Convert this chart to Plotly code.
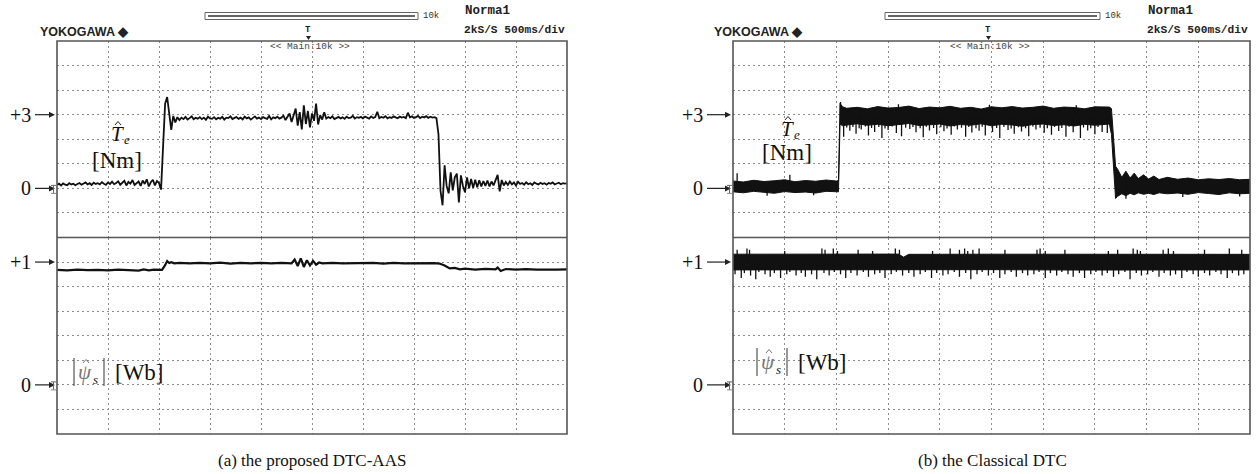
import numpy as np
import plotly.graph_objects as go

# ---------------- data ----------------
# (a) proposed DTC-AAS : torque estimate [Nm], sampled every 0.02 s from 0 to 5 s
TA_DT = 0.02
TA_V = [
    0.14, 0.19, 0.12, 0.20, 0.15, 0.13, 0.21, 0.16, 0.19, 0.13,
    0.18, 0.22, 0.15, 0.20, 0.24, 0.16, 0.21, 0.14, 0.23, 0.18,
    0.21, 0.16, 0.25, 0.19, 0.14, 0.24, 0.18, 0.27, 0.17, 0.22,
    0.29, 0.15, 0.23, 0.31, 0.12, 0.26, 0.19, 0.34, 0.14, 0.23,
    0.28, 0.10, 0.32, 0.18, 0.37, 0.08, 0.25, 0.35, 0.12, 0.30,
    0.22, -0.05, 1.60, 3.45, 3.72, 2.90, 2.38, 2.95, 2.68, 2.90,
    2.78, 2.88, 2.82, 2.91, 2.80, 2.86, 2.93, 2.81, 2.87, 2.84,
    2.90, 2.82, 2.88, 2.79, 2.92, 2.85, 2.83, 2.90, 2.81, 2.87,
    2.84, 2.91, 2.80, 2.88, 2.86, 2.93, 2.82, 2.87, 2.90, 2.83,
    2.88, 2.81, 2.92, 2.85, 2.89, 2.80, 2.87, 2.93, 2.84, 2.88,
    2.82, 2.90, 2.86, 2.83, 2.95, 2.81, 2.89, 2.86, 2.92, 2.84,
    2.88, 2.96, 2.78, 2.92, 3.05, 2.70, 2.98, 3.25, 2.55, 3.10,
    2.40, 3.38, 2.62, 3.15, 2.48, 3.05, 2.75, 3.45, 2.60, 2.98,
    2.80, 3.10, 2.84, 2.90, 2.86, 2.93, 2.82, 2.88, 2.91, 2.85,
    2.89, 2.83, 2.92, 2.86, 2.88, 2.95, 2.84, 2.90, 2.87, 2.91,
    2.85, 2.92, 2.88, 2.84, 2.93, 2.87, 2.90, 3.12, 2.86, 2.91,
    2.88, 2.94, 2.85, 2.90, 2.87, 2.93, 2.89, 2.86, 2.92, 2.88,
    2.91, 2.86, 3.08, 2.89, 2.93, 2.87, 2.90, 2.95, 2.86, 2.92,
    2.89, 2.94, 2.87, 2.92, 2.88, 2.90, 2.86, 2.20, -0.10, -0.69,
    0.94, 0.10, -0.20, 0.65, -0.08, 0.45, 0.60, -0.57, 0.53, 0.10,
    -0.16, 0.45, 0.00, 0.38, 0.02, 0.35, 0.05, 0.33, 0.08, 0.30,
    0.10, 0.32, 0.08, 0.28, 0.12, 0.30, 0.55, -0.12, 0.34, 0.12,
    0.26, 0.14, 0.28, 0.16, 0.24, 0.12, 0.27, 0.18, 0.22, 0.15,
    0.25, 0.17, 0.21, 0.14, 0.24, 0.19, 0.16, 0.23, 0.18, 0.21,
    0.15, 0.22, 0.19, 0.24, 0.16, 0.20, 0.23, 0.17, 0.21, 0.19,
    0.20,
]

# (a) stator flux magnitude [Wb]
FA_T = [0.0, 0.1, 0.2, 0.3, 0.4, 0.5, 0.6, 0.7, 0.8, 0.85, 0.9, 0.95, 1.0,
        1.03, 1.06, 1.08, 1.10, 1.12, 1.15,
        1.2, 1.3, 1.4, 1.5, 1.6, 1.7, 1.8, 1.9, 2.0, 2.1, 2.2, 2.3,
        2.33, 2.36, 2.39, 2.42, 2.45, 2.48, 2.51, 2.54, 2.57,
        2.6, 2.7, 2.8, 2.9, 3.0, 3.1, 3.2, 3.3, 3.4, 3.5, 3.6, 3.7,
        3.75, 3.8, 3.85, 3.9, 3.95, 4.0, 4.1, 4.2, 4.3, 4.32, 4.35,
        4.4, 4.5, 4.6, 4.7, 4.8, 4.9, 5.0]
FA_V = [0.936, 0.933, 0.938, 0.934, 0.937, 0.932, 0.938, 0.935, 0.931, 0.940, 0.933, 0.938, 0.934,
        0.936, 0.975, 1.008, 0.992, 0.999, 0.990,
        0.994, 0.989, 0.993, 0.990, 0.995, 0.988, 0.993, 0.990, 0.994, 0.989, 0.993, 0.990,
        1.020, 0.968, 1.030, 0.960, 1.015, 0.972, 1.010, 0.978, 0.996,
        0.990, 0.993, 0.989, 0.992, 0.990, 0.994, 0.988, 0.993, 0.990, 0.992, 0.989, 0.991,
        0.988, 0.972, 0.948, 0.952, 0.941, 0.946, 0.939, 0.944, 0.940, 0.955, 0.928,
        0.943, 0.939, 0.942, 0.938, 0.941, 0.939, 0.940]

# (b) classical DTC : torque ripple band (lower / upper envelope) [Nm]
TB_T = [0.00, 0.10, 0.20, 0.30, 0.40, 0.50, 0.60, 0.70, 0.80, 0.90, 1.00, 1.02,
        1.035, 1.06, 1.10, 1.20, 1.30, 1.40, 1.50, 1.60, 1.70, 1.80, 1.90, 2.00, 2.10,
        2.20, 2.30, 2.40, 2.50, 2.60, 2.70, 2.80, 2.90, 3.00, 3.10, 3.20, 3.30, 3.40,
        3.50, 3.60, 3.64,
        3.66, 3.70, 3.72, 3.76, 3.80, 3.84, 3.88, 3.92, 3.97, 4.02, 4.07, 4.12,
        4.20, 4.30, 4.40, 4.50, 4.60, 4.70, 4.80, 4.90, 5.00]
TB_LO = [-0.14, -0.18, -0.12, -0.16, -0.20, -0.13, -0.17, -0.15, -0.19, -0.12, -0.16, -0.14,
         2.62, 2.55, 2.58, 2.63, 2.57, 2.61, 2.55, 2.60, 2.64, 2.56, 2.59, 2.62, 2.54,
         2.60, 2.57, 2.63, 2.55, 2.61, 2.58, 2.53, 2.60, 2.62, 2.56, 2.59, 2.54, 2.61,
         2.57, 2.60, 2.62,
         2.20, -0.41, -0.32, -0.22, -0.30, -0.20, -0.26, -0.18, -0.24, -0.20, -0.25, -0.18,
         -0.22, -0.19, -0.24, -0.17, -0.21, -0.25, -0.18, -0.22, -0.20]
TB_HI = [0.30, 0.26, 0.33, 0.28, 0.31, 0.35, 0.27, 0.32, 0.29, 0.34, 0.30, 0.32,
         3.46, 3.32, 3.26, 3.30, 3.24, 3.33, 3.27, 3.29, 3.35, 3.25, 3.31, 3.28, 3.34,
         3.26, 3.30, 3.23, 3.32, 3.28, 3.33, 3.27, 3.30, 3.35, 3.26, 3.31, 3.29, 3.24,
         3.32, 3.30, 3.31,
         3.25, 0.90, 0.78, 0.45, 0.70, 0.42, 0.62, 0.40, 0.55, 0.38, 0.50, 0.36,
         0.45, 0.37, 0.42, 0.35, 0.39, 0.36, 0.40, 0.35, 0.37]
# (b) torque spikes (time [s], tip value [Nm])
SB_T = [0.04, 0.33, 0.55, 0.78, 1.04, 1.07, 1.10, 1.13, 1.16, 1.19, 1.22, 1.24, 1.28, 1.31,
        1.34, 1.37, 1.41, 1.44, 1.47, 1.50, 1.54, 1.58, 1.60, 1.63, 1.67, 1.71, 1.74, 1.77,
        1.81, 1.84, 1.87, 1.90, 1.94, 1.97, 2.01, 2.04, 2.07, 2.11, 2.14, 2.17, 2.21,
        2.25, 2.28, 2.31, 2.35, 2.38, 2.41, 2.44, 2.48, 2.51, 2.55, 2.58, 2.62, 2.66,
        2.69, 2.72, 2.76, 2.79, 2.83, 2.86, 2.90, 2.93, 2.97, 3.01, 3.04, 3.08, 3.11,
        3.15, 3.18, 3.22, 3.25, 3.29, 3.32, 3.36, 3.39, 3.43, 3.46, 3.50, 3.53, 3.57, 3.62,
        3.80, 4.35, 4.90]
SB_V = [0.62, -0.30, 0.55, -0.28, 3.52, 2.10, 2.48, 2.35, 2.50, 2.22, 2.45, 2.40, 2.52, 2.15,
        2.46, 2.30, 2.50, 2.05, 2.44, 2.38, 2.52, 2.25, 3.42, 2.12, 2.47, 2.42, 2.50, 2.28,
        2.45, 2.08, 2.51, 2.36, 2.46, 2.20, 2.49, 2.33, 2.44, 2.18, 2.52, 2.40, 2.47,
        2.10, 2.50, 2.27, 2.45, 2.35, 2.51, 2.15, 3.40, 2.30, 2.46, 2.05, 2.50, 2.38,
        2.44, 2.22, 2.49, 2.32, 2.45, 2.12, 2.52, 2.40, 2.47, 2.26, 2.45, 2.18, 2.50,
        2.34, 2.46, 2.10, 2.51, 2.28, 3.38, 2.05, 2.48, 2.36, 2.45, 2.20, 2.50, 2.30, 2.25,
        -0.42, -0.35, -0.33]

# (b) flux ripple band [Wb]
FB_T = [0.0, 0.8, 1.6, 1.65, 1.70, 2.5, 3.3, 4.1, 5.0]
FB_LO = [0.936, 0.938, 0.935, 0.937, 0.936, 0.938, 0.935, 0.937, 0.936]
FB_HI = [1.064, 1.062, 1.065, 1.040, 1.063, 1.064, 1.062, 1.065, 1.063]
# (b) flux spikes above the band
FBU_T = [0.04, 0.135, 0.16, 0.50, 0.86, 0.89, 0.97, 1.01, 1.21, 1.35, 1.57, 1.61, 1.93,
         2.10, 2.19, 2.24, 2.27, 2.32, 2.38, 2.63, 2.94, 2.97, 3.02, 3.21, 3.63, 3.72,
         3.87, 3.91, 3.94, 4.16, 4.21, 4.26, 4.56, 4.80, 4.92]
FBU_V = [1.10, 1.11, 1.10, 1.09, 1.11, 1.10, 1.11, 1.09, 1.10, 1.09, 1.11, 1.10, 1.09,
         1.11, 1.10, 1.11, 1.09, 1.10, 1.11, 1.10, 1.10, 1.11, 1.09, 1.10, 1.09, 1.10,
         1.11, 1.10, 1.09, 1.10, 1.11, 1.09, 1.10, 1.11, 1.10]
# (b) flux spikes below the band
FBD_T = [0.02, 0.08, 0.11, 0.17, 0.22, 0.25, 0.31, 0.36, 0.40, 0.46, 0.52, 0.55, 0.61,
         0.66, 0.70, 0.76, 0.81, 0.88, 0.93, 0.98, 1.04, 1.09, 1.14, 1.20, 1.26, 1.31,
         1.37, 1.42, 1.47, 1.53, 1.58, 1.64, 1.70, 1.75, 1.81, 1.86, 1.92, 1.97, 2.03,
         2.08, 2.14, 2.19, 2.25, 2.30, 2.36, 2.41, 2.47, 2.52, 2.58, 2.63, 2.69, 2.74,
         2.80, 2.85, 2.91, 2.96, 3.02, 3.07, 3.13, 3.18, 3.24, 3.29, 3.35, 3.40, 3.46,
         3.51, 3.57, 3.62, 3.68, 3.73, 3.79, 3.84, 3.90, 3.95, 4.01, 4.06, 4.12, 4.17,
         4.23, 4.28, 4.34, 4.39, 4.45, 4.50, 4.56, 4.61, 4.67, 4.72, 4.78, 4.83, 4.89, 4.94]
FBD_V = [0.90, 0.87, 0.91, 0.89, 0.86, 0.92, 0.90, 0.88, 0.91, 0.87, 0.90, 0.92, 0.89,
         0.91, 0.88, 0.90, 0.86, 0.91, 0.89, 0.92, 0.90, 0.87, 0.91, 0.89, 0.92, 0.88,
         0.90, 0.91, 0.87, 0.90, 0.92, 0.89, 0.91, 0.88, 0.90, 0.92, 0.87, 0.91, 0.89,
         0.90, 0.92, 0.88, 0.91, 0.86, 0.90, 0.92, 0.89, 0.91, 0.87, 0.90, 0.92, 0.88,
         0.91, 0.89, 0.90, 0.92, 0.87, 0.91, 0.89, 0.92, 0.90, 0.88, 0.91, 0.87, 0.90,
         0.92, 0.89, 0.91, 0.88, 0.90, 0.92, 0.86, 0.91, 0.89, 0.90, 0.92, 0.88, 0.91,
         0.89, 0.90, 0.87, 0.92, 0.90, 0.88, 0.91, 0.89, 0.92, 0.90, 0.87, 0.91, 0.89, 0.90]

# level markers drawn at the left edge of each screen
LEVEL_LABELS = ["+3", "0", "+1", "0"]
LEVEL_VALUES = [3, 0, 1, 0]           # torque [Nm], torque [Nm], flux [Wb], flux [Wb]
CAPTIONS = ["(a) the proposed DTC-AAS", "(b) the Classical DTC"]

# ---------------- layout helpers ----------------
W, H = 1259, 474
def px(x): return x / W
def py(y): return 1 - y / H

TOP, MID, BOT = 41, 237.5, 434
PANELS = [(57, 567), (733, 1250)]
SERIF = "Liberation Serif"
MONO = "Liberation Mono"
T_RANGE, F_RANGE = (-2, 6), (-0.4, 1.2)

def ypix(v, half):
    """pixel row of a value on the upper (torque) or lower (flux) half"""
    lo, hi = T_RANGE if half == 0 else F_RANGE
    y0, y1 = (TOP, MID) if half == 0 else (MID, BOT)
    return y0 + (hi - v) / (hi - lo) * (y1 - y0)

fig = go.Figure()
INK = "#111111"

# (a)
ta_t = np.round(np.arange(len(TA_V)) * TA_DT, 3)
fig.add_trace(go.Scatter(x=ta_t, y=TA_V, mode="lines", line=dict(color=INK, width=1.8),
                         xaxis="x", yaxis="y", hoverinfo="skip"))
fig.add_trace(go.Scatter(x=FA_T, y=FA_V, mode="lines", line=dict(color=INK, width=2.2),
                         xaxis="x2", yaxis="y2", hoverinfo="skip"))

# (b) torque band
fig.add_trace(go.Scatter(x=TB_T, y=TB_LO, mode="lines", line=dict(color=INK, width=1),
                         xaxis="x3", yaxis="y3", hoverinfo="skip"))
fig.add_trace(go.Scatter(x=TB_T, y=TB_HI, mode="lines", line=dict(color=INK, width=1),
                         fill="tonexty", fillcolor=INK, xaxis="x3", yaxis="y3", hoverinfo="skip"))
mid_tb = (np.array(TB_LO) + np.array(TB_HI)) / 2
sx, sy = [], []
for t, v in zip(SB_T, SB_V):
    sx += [t, t, None]
    sy += [float(np.interp(t, TB_T, mid_tb)), v, None]
fig.add_trace(go.Scatter(x=sx, y=sy, mode="lines", line=dict(color=INK, width=1.3),
                         xaxis="x3", yaxis="y3", hoverinfo="skip"))

# (b) flux band
fig.add_trace(go.Scatter(x=FB_T, y=FB_LO, mode="lines", line=dict(color=INK, width=1),
                         xaxis="x4", yaxis="y4", hoverinfo="skip"))
fig.add_trace(go.Scatter(x=FB_T, y=FB_HI, mode="lines", line=dict(color=INK, width=1),
                         fill="tonexty", fillcolor=INK, xaxis="x4", yaxis="y4", hoverinfo="skip"))
mid_fb = (np.array(FB_LO) + np.array(FB_HI)) / 2
sx, sy = [], []
for t, v in list(zip(FBU_T, FBU_V)) + list(zip(FBD_T, FBD_V)):
    sx += [t, t, None]
    sy += [float(np.interp(t, FB_T, mid_fb)), v, None]
fig.add_trace(go.Scatter(x=sx, y=sy, mode="lines", line=dict(color=INK, width=1.3),
                         xaxis="x4", yaxis="y4", hoverinfo="skip"))

GRID = dict(showgrid=True, gridcolor="#8c8c8c", gridwidth=1, griddash="2px,3px",
            showticklabels=False, ticks="", zeroline=False, showline=False, fixedrange=True)
lay = {}
for i, (l, r) in enumerate(PANELS):
    xa_top = "xaxis" if i == 0 else "xaxis3"
    xa_bot = "xaxis2" if i == 0 else "xaxis4"
    ya_top = "yaxis" if i == 0 else "yaxis3"
    ya_bot = "yaxis2" if i == 0 else "yaxis4"
    yt, yb = ("y", "y2") if i == 0 else ("y3", "y4")
    xt, xb = ("x", "x2") if i == 0 else ("x3", "x4")
    lay[xa_top] = dict(domain=[px(l), px(r)], range=[0, 5], dtick=0.5, tick0=0, anchor=yt, **GRID)
    lay[xa_bot] = dict(domain=[px(l), px(r)], range=[0, 5], dtick=0.5, tick0=0, anchor=yb, **GRID)
    lay[ya_top] = dict(domain=[py(MID), py(TOP)], range=list(T_RANGE), dtick=1, tick0=0, anchor=xt, **GRID)
    lay[ya_bot] = dict(domain=[py(BOT), py(MID)], range=list(F_RANGE), dtick=0.2, tick0=0, anchor=xb, **GRID)

shapes = []
annotations = []
def text(s, x, y, size, family=SERIF, color="#111", xanchor="center", yanchor="middle"):
    annotations.append(dict(text=s, x=px(x), y=py(y), xref="paper", yref="paper",
                            showarrow=False, xanchor=xanchor, yanchor=yanchor,
                            font=dict(size=size, family=family, color=color)))
def line(x0, y0, x1, y1, color="#222", width=1.2):
    shapes.append(dict(type="line", xref="paper", yref="paper", x0=px(x0), x1=px(x1),
                       y0=py(y0), y1=py(y1), line=dict(color=color, width=width)))
def hat(x, y, color="#222"):
    shapes.append(dict(type="path", xref="paper", yref="paper",
                       path=f"M {px(x-3)} {py(y+2)} L {px(x)} {py(y-1.5)} L {px(x+3)} {py(y+2)}",
                       line=dict(color=color, width=1)))

HEAD = [  # per panel: yokogawa x, bar x0, bar x1, trigger x
    dict(yk=38, b0=205, b1=418, tr=308),
    dict(yk=712, b0=885, b1=1100, tr=988),
]
for i, (l, r) in enumerate(PANELS):
    # frame and divider
    shapes.append(dict(type="rect", xref="paper", yref="paper", x0=px(l), x1=px(r), y0=py(BOT), y1=py(TOP),
                       line=dict(color="#555", width=1.6), layer="above"))
    shapes.append(dict(type="line", xref="paper", yref="paper", x0=px(l), x1=px(r), y0=py(MID), y1=py(MID),
                       line=dict(color="#555", width=1.6), layer="above"))
    h = HEAD[i]
    text("<b>YOKOGAWA ◆</b>", h["yk"], 32, 12.5, family="Liberation Sans", color="#222", xanchor="left")
    # memory bar
    shapes.append(dict(type="rect", xref="paper", yref="paper", x0=px(h["b0"]), x1=px(h["b1"]),
                       y0=py(19.5), y1=py(12.5), line=dict(color="#666", width=1)))
    line(h["b0"] + 3, 16, h["b1"] - 3, 16, color="#666", width=2)
    text("10k", h["b1"] + 3, 16, 9, family=MONO, color="#333", xanchor="left")
    text("<b>Norma1</b>", r - 104, 11, 12.5, family=MONO, color="#222", xanchor="left")
    text("<b>2kS/S 500ms/div</b>", r, 30, 11.2, family=MONO, color="#222", xanchor="right")
    text("<b>T</b>", h["tr"], 30, 9, family=MONO, color="#222")
    shapes.append(dict(type="path", xref="paper", yref="paper",
                       path=f"M {px(h['tr']-2)} {py(36)} L {px(h['tr']+3)} {py(36)} L {px(h['tr']+0.5)} {py(40)} Z",
                       fillcolor="#222", line=dict(width=0)))
    text("&lt;&lt; Main:10k &gt;&gt;", h["tr"] + 2, 46.5, 9.5, family=MONO, color="#444")

    # level labels with arrows pointing at the screen edge
    shift = 0 if i == 0 else 4
    for k, (lab, val) in enumerate(zip(LEVEL_LABELS, LEVEL_VALUES)):
        half = 0 if k < 2 else 1
        yv = ypix(val, half)
        x_end = l - 2
        x_lab_r = l - 24 - shift
        text(lab, x_lab_r, yv, 20, xanchor="right")
        line(x_lab_r + 2, yv, x_end - 4, yv, width=1.2)
        shapes.append(dict(type="path", xref="paper", yref="paper",
                           path=f"M {px(x_end-6)} {py(yv-3)} L {px(x_end)} {py(yv)} L {px(x_end-6)} {py(yv+3)} Z",
                           fillcolor="#222", line=dict(width=0)))
        if lab == "0":
            # ground mark
            line(l - 6, yv - 3, l - 1, yv - 3, color="#666", width=1)
            line(l - 3.5, yv - 3, l - 3.5, yv + 5, color="#666", width=1)
            line(l - 6, yv + 5, l - 1, yv + 5, color="#888", width=1)

# signal names (each glyph placed on its own)
NAMES = [dict(tx=117, ty=134, nx=117, ny=161, b0=74, b1=104, fy=372, wx=139),
         dict(tx=787, ty=129, nx=787, ny=153, b0=757, b1=787, fy=362, wx=822)]
for n in NAMES:
    text("<i>T</i>", n["tx"], n["ty"], 21)
    hat(n["tx"] + 1, n["ty"] - 11)
    text("<i>e</i>", n["tx"] + 10, n["ty"] + 6, 13)
    text("[Nm]", n["nx"], n["ny"], 23)
    # |psi_s| [Wb]
    line(n["b0"], n["fy"] - 14, n["b0"], n["fy"] + 14, color="#333", width=1)
    line(n["b1"], n["fy"] - 14, n["b1"], n["fy"] + 14, color="#333", width=1)
    text("<i>ψ</i>", n["b0"] + 11, n["fy"], 21, color="#777")
    hat(n["b0"] + 12, n["fy"] - 11, color="#777")
    text("<i>s</i>", n["b0"] + 21, n["fy"] + 7, 13)
    text("[Wb]", n["wx"], n["fy"], 23)

text(CAPTIONS[0], 312, 460, 17)
text(CAPTIONS[1], 992, 460, 17)

fig.update_layout(width=W, height=H, margin=dict(l=0, r=0, t=0, b=0),
                  paper_bgcolor="white", plot_bgcolor="white", showlegend=False,
                  shapes=shapes, annotations=annotations, **lay)
fig.write_html("out.html", config=dict(displayModeBar=False))
